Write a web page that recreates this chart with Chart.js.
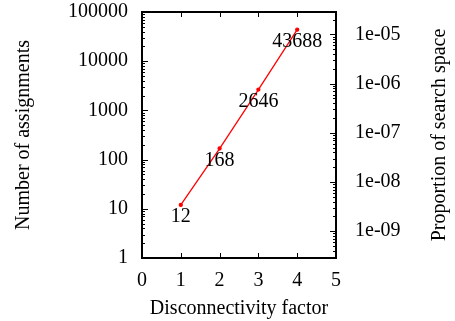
<!DOCTYPE html>
<html>
<head>
<meta charset="utf-8">
<script src="https://cdn.jsdelivr.net/npm/chart.js@4"></script>
<style>
  html, body { margin: 0; padding: 0; background: #fff; }
  #wrap { width: 455px; height: 321px; }
</style>
</head>
<body>
<div id="wrap"><canvas id="chart"></canvas></div>
<script>
const factors = [1, 2, 3, 4];
const assignments = [12, 168, 2646, 43688];
const pointLabels = ['12', '168', '2646', '43688'];

const xTicks = [0, 1, 2, 3, 4, 5];
const leftTicks = [1, 10, 100, 1000, 10000, 100000];
const leftTickLabels = ['1', '10', '100', '1000', '10000', '100000'];
const rightTicks = [1e-9, 1e-8, 1e-7, 1e-6, 1e-5];
const rightTickLabels = ['1e-09', '1e-08', '1e-07', '1e-06', '1e-05'];

// size of the search space, used to map counts onto the right axis
const searchSpace = 3.5e9;

const serif = 'Liberation Serif';
const fontSize = 20;

const decorations = {
  id: 'decorations',
  afterDraw(chart) {
    const ctx = chart.ctx;
    const a = chart.chartArea;
    const x = chart.scales.x, y = chart.scales.y, y2 = chart.scales.y2;
    ctx.save();
    ctx.strokeStyle = '#000';
    ctx.lineWidth = 1;
    ctx.beginPath();
    // top / bottom ticks
    xTicks.forEach(v => {
      const px = Math.round(x.getPixelForValue(v)) + 0.5;
      ctx.moveTo(px, a.top); ctx.lineTo(px, a.top + 5);
      ctx.moveTo(px, a.bottom); ctx.lineTo(px, a.bottom - 5);
    });
    // left ticks
    for (let d = 0; d < 5; d++) {
      for (let k = 1; k < 10; k++) {
        const py = Math.round(y.getPixelForValue(k * Math.pow(10, d))) + 0.5;
        const len = k === 1 ? 6 : 3;
        ctx.moveTo(a.left, py); ctx.lineTo(a.left + len, py);
      }
    }
    // right ticks
    for (let d = -10; d < -4; d++) {
      for (let k = 1; k < 10; k++) {
        const v = k * Math.pow(10, d);
        if (v < y2.min || v > y2.max) continue;
        const py = Math.round(y2.getPixelForValue(v)) + 0.5;
        const len = k === 1 ? 6 : 3;
        ctx.moveTo(a.right, py); ctx.lineTo(a.right - len, py);
      }
    }
    ctx.stroke();
    // frame
    ctx.lineWidth = 2;
    ctx.strokeRect(a.left, a.top, a.right - a.left, a.bottom - a.top);

    // point labels
    ctx.fillStyle = '#000';
    ctx.font = fontSize + 'px "' + serif + '"';
    ctx.textAlign = 'center';
    ctx.textBaseline = 'middle';
    factors.forEach((f, i) => {
      ctx.fillText(pointLabels[i], x.getPixelForValue(f), y.getPixelForValue(assignments[i]) + 12);
    });

    // right axis title, reading upwards
    ctx.translate(440, (a.top + a.bottom) / 2);
    ctx.rotate(-Math.PI / 2);
    ctx.fillText('Proportion of search space', 0, 0);
    ctx.restore();
  }
};

new Chart(document.getElementById('chart'), {
  type: 'line',
  data: {
    datasets: [{
      data: factors.map((f, i) => ({ x: f, y: assignments[i] })),
      borderColor: '#ff0000',
      backgroundColor: '#ff0000',
      borderWidth: 1.3,
      pointRadius: 1.5,
      pointHoverRadius: 1.5,
      tension: 0
    }]
  },
  options: {
    responsive: true,
    maintainAspectRatio: false,
    animation: false,
    layout: { padding: { top: 11, left: 0, right: 0, bottom: 0 } },
    plugins: { legend: { display: false }, tooltip: { enabled: false } },
    scales: {
      x: {
        type: 'linear',
        min: 0, max: 5,
        afterBuildTicks: s => { s.ticks = xTicks.map(v => ({ value: v })); },
        afterFit: s => { s.height = 63; },
        grid: { display: false, drawTicks: true, tickLength: 11 },
        border: { display: false },
        ticks: { color: '#000', padding: 0, font: { family: serif, size: fontSize } },
        title: { display: true, text: 'Disconnectivity factor', color: '#000',
                 padding: { top: 0, bottom: 0 }, font: { family: serif, size: fontSize } }
      },
      y: {
        type: 'logarithmic',
        position: 'left',
        min: 1, max: 100000,
        afterBuildTicks: s => { s.ticks = leftTicks.map(v => ({ value: v })); },
        afterFit: s => { s.width = 142; },
        grid: { display: false, drawTicks: true, tickLength: 14 },
        border: { display: false },
        ticks: {
          color: '#000', padding: 0, font: { family: serif, size: fontSize },
          callback: v => leftTickLabels[leftTicks.indexOf(v)]
        },
        title: { display: true, text: 'Number of assignments', color: '#000',
                 padding: { top: 12, bottom: 0 }, font: { family: serif, size: fontSize } }
      },
      y2: {
        type: 'logarithmic',
        position: 'right',
        min: 1 / searchSpace, max: 100000 / searchSpace,
        afterBuildTicks: s => { s.ticks = rightTicks.map(v => ({ value: v })); },
        afterFit: s => { s.width = 119; },
        grid: { display: false, drawTicks: true, tickLength: 19 },
        border: { display: false },
        ticks: {
          color: '#000', padding: 0, font: { family: serif, size: fontSize },
          callback: (v, i) => rightTickLabels[i]
        }
      }
    }
  },
  plugins: [decorations]
});
</script>
</body>
</html>
